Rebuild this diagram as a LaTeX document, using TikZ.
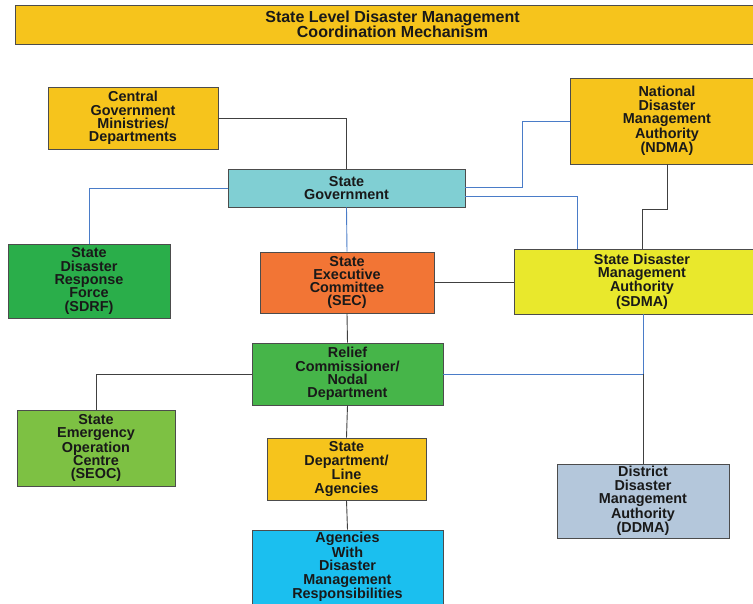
\documentclass[tikz,border=0pt]{standalone}
\usepackage{fontspec}
\setmainfont{Liberation Sans}
\usepackage{xcolor}
\usetikzlibrary{positioning,calc}
\definecolor{dmgold}{HTML}{F6C41C}
\definecolor{dmcyan}{HTML}{80CFD3}
\definecolor{dmgreen}{HTML}{2AAE4A}
\definecolor{dmorange}{HTML}{F27535}
\definecolor{dmlemon}{HTML}{E9E82C}
\definecolor{dmrelief}{HTML}{46B549}
\definecolor{dmlime}{HTML}{7DC143}
\definecolor{dmsteel}{HTML}{B4C7DB}
\definecolor{dmsky}{HTML}{1BBFEF}
\definecolor{dmblue}{HTML}{4A7CC8}
\tikzset{
  dm box/.style={
    rectangle,
    draw=black!70,
    line width=0.8pt,
    align=center,
    inner sep=0pt,
    text=black!90,
    font=\fontsize{14.4}{13.3}\selectfont\bfseries,
  },
  dm title/.style={
    dm box,
    fill=dmgold,
    font=\fontsize{16}{15}\selectfont\bfseries,
  },
  dm line/.style={line width=0.9pt, draw=black!75},
  dm blue/.style={line width=0.9pt, draw=dmblue},
}

\begin{document}
\begin{tikzpicture}[x=1pt,y=-1pt]
  \useasboundingbox (0,0) rectangle (753,603);

  \node[dm title,minimum width=755pt,minimum height=39pt] (title) at (392.5,24.5)
    {State Level Disaster Management\\Coordination Mechanism};

  \node[dm box,fill=dmgold,minimum width=170pt,minimum height=62pt] (central) at (133,118)
    {Central\\Government\\Ministries/\\Departments};
  \node[dm box,fill=dmgold,minimum width=194pt,minimum height=86pt] (ndma) at (667,121)
    {National\\Disaster\\Management\\Authority\\(NDMA)};
  \node[dm box,fill=dmcyan,minimum width=237pt,minimum height=38pt] (stategov) at (346.5,188)
    {State\\Government};
  \node[dm box,fill=dmgreen,minimum width=162pt,minimum height=74pt] (sdrf) at (89,281)
    {State\\Disaster\\Response\\Force\\(SDRF)};
  \node[dm box,fill=dmorange,minimum width=174pt,minimum height=61pt] (sec) at (347,282.5)
    {State\\Executive\\Committee\\(SEC)};
  \node[dm box,fill=dmlemon,minimum width=256pt,minimum height=65pt] (sdma) at (642,281.5)
    {State Disaster\\Management\\Authority\\(SDMA)};
  \node[dm box,fill=dmrelief,minimum width=191pt,minimum height=62pt] (relief) at (347.5,374)
    {Relief\\Commissioner/\\Nodal\\Department};
  \node[dm box,fill=dmlime,minimum width=158pt,minimum height=76pt] (seoc) at (96,448)
    {State\\Emergency\\Operation\\Centre\\(SEOC)};
  \node[dm box,fill=dmgold,minimum width=159pt,minimum height=62pt] (statedept) at (346.5,469)
    {State\\Department/\\Line\\Agencies};
  \node[dm box,fill=dmsteel,minimum width=172pt,minimum height=74pt] (ddma) at (643,501)
    {District\\Disaster\\Management\\Authority\\(DDMA)};
  \node[dm box,fill=dmsky,minimum width=191pt,minimum height=74pt] (agencies) at (347.5,567)
    {Agencies\\With\\Disaster\\Management\\Responsibilities};

  % links around the state government
  \draw[dm line] (central.east) -| (stategov.north);
  \draw[dm blue] (ndma.west) -- ++(-47,0) |- ([yshift=1pt]stategov.east);
  \draw[dm blue] ([yshift=-8pt]stategov.east) -| ($(sdma.north west)+(64,0)$);
  \draw[dm line] (ndma.south) -- ++(0,45) -| (sdma.north);
  \draw[dm blue] (stategov.west) -| (sdrf.north);
  \draw[dm blue] (stategov.south) -- (sec.north);
  \draw[dm line] (sec.east) -- (sec.east -| sdma.west);

  % links below the executive committee
  \coordinate (jn) at (ddma.north |- relief.east);
  \draw[dm line] (sec.south) -- (relief.north);
  \draw[dm line] (relief.west) -| (seoc.north);
  \draw[dm blue] (relief.east) -- (jn) -- (jn |- sdma.south);
  \draw[dm line] (jn) -- (ddma.north);
  \draw[dm line] (relief.south) -- (statedept.north);
  \draw[dm line] (statedept.south) -- (agencies.north);
\end{tikzpicture}
\end{document}
